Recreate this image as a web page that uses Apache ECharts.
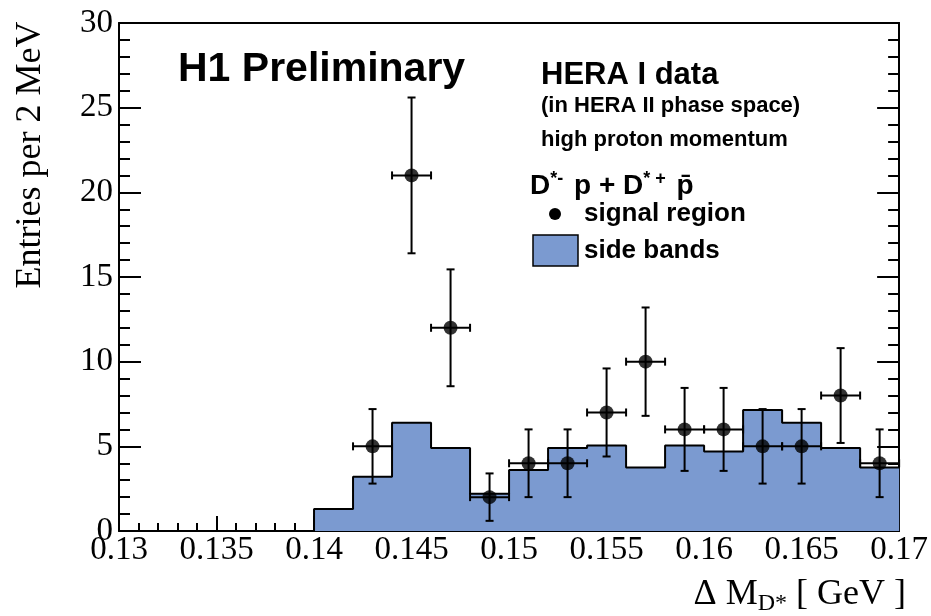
<!DOCTYPE html>
<html>
<head>
<meta charset="utf-8">
<script src="https://cdn.jsdelivr.net/npm/echarts@6/dist/echarts.min.js"></script>
<style>
  html, body { margin: 0; padding: 0; background: #fff; }
  #main { width: 931px; height: 616px; }
</style>
</head>
<body>
<div id="main"></div>
<script>
// side band histogram: bin edges (GeV) and content per 2 MeV bin
var binEdges = [0.140, 0.142, 0.144, 0.146, 0.148, 0.150, 0.152, 0.154, 0.156, 0.158, 0.160, 0.162, 0.164, 0.166, 0.168, 0.170];
var sideBands = [1.3, 3.2, 6.4, 4.9, 2.2, 3.6, 4.9, 5.05, 3.75, 5.05, 4.7, 7.15, 6.4, 4.9, 3.75];

// signal region points (bin centres), entries and vertical errors
var signalX = [0.143, 0.145, 0.147, 0.149, 0.151, 0.153, 0.155, 0.157, 0.159, 0.161, 0.163, 0.165, 0.167, 0.169];
var signalY = [5, 21, 12, 2, 4, 4, 7, 10, 6, 6, 5, 5, 8, 4];
var signalErr = [2.2, 4.6, 3.45, 1.4, 2.0, 2.0, 2.6, 3.2, 2.45, 2.45, 2.2, 2.2, 2.8, 2.0];
var halfBin = 0.001;

var fill = '#7b9ad0';
var serif = '"Liberation Serif", "DejaVu Serif", serif';
var sans = '"Liberation Sans", Arial, sans-serif';

// step outline of the histogram
var histPts = [[binEdges[0], 0]];
for (var i = 0; i < sideBands.length; i++) histPts.push([binEdges[i], sideBands[i]]);
histPts.push([binEdges[binEdges.length - 1], sideBands[sideBands.length - 1]]);

var errData = signalX.map((x, i) => [x, signalY[i], signalErr[i]]);
var pts = signalX.map((x, i) => [x, signalY[i]]);

var chart = echarts.init(document.getElementById('main'));

function renderErr(params, api) {
    var x = api.value(0), y = api.value(1), e = api.value(2);
    var c = api.coord([x, y]);
    var top = api.coord([x, y + e]);
    var bot = api.coord([x, Math.max(y - e, 0)]);
    var lft = api.coord([x - halfBin, y]);
    var rgt = api.coord([x + halfBin, y]);
    var cap = 4;
    var st = { stroke: '#000', lineWidth: 2 };
    var ln = (x1, y1, x2, y2) => ({ type: 'line', shape: { x1: x1, y1: y1, x2: x2, y2: y2 }, style: st });
    return {
        type: 'group',
        children: [
            ln(c[0], top[1], c[0], bot[1]),
            ln(c[0] - cap, top[1], c[0] + cap, top[1]),
            ln(c[0] - cap, bot[1], c[0] + cap, bot[1]),
            ln(lft[0], c[1], rgt[0], c[1]),
            ln(lft[0], c[1] - cap, lft[0], c[1] + cap),
            ln(rgt[0], c[1] - cap, rgt[0], c[1] + cap)
        ]
    };
}

var option = {
    animation: false,
    backgroundColor: '#fff',
    grid: { left: 119, right: 25, top: 23, bottom: 85 },
    xAxis: [{
        type: 'value', min: 0.13, max: 0.17, interval: 0.005,
        axisLine: { lineStyle: { color: '#000', width: 2 } },
        axisTick: { inside: true, length: 15, lineStyle: { color: '#000', width: 2 } },
        minorTick: { show: true, splitNumber: 5, length: 8, lineStyle: { color: '#000', width: 2 } },
        splitLine: { show: false },
        axisLabel: {
            color: '#000', fontFamily: serif, fontSize: 33, margin: 3,
            showMinLabel: true, showMaxLabel: true,
            formatter: v => String(+v.toFixed(3))
        }
    }, {
        type: 'value', position: 'top', min: 0.13, max: 0.17,
        axisLine: { onZero: false, lineStyle: { color: '#000', width: 2 } },
        axisTick: { show: false }, axisLabel: { show: false }, splitLine: { show: false }
    }],
    yAxis: [{
        type: 'value', min: 0, max: 30, interval: 5,
        axisLine: { show: true, lineStyle: { color: '#000', width: 2 } },
        axisTick: { show: true, inside: true, length: 22, lineStyle: { color: '#000', width: 2 } },
        minorTick: { show: true, splitNumber: 5, length: 11, lineStyle: { color: '#000', width: 2 } },
        splitLine: { show: false },
        axisLabel: { color: '#000', fontFamily: serif, fontSize: 33, margin: 6 }
    }, {
        type: 'value', min: 0, max: 30, interval: 5, position: 'right',
        axisLine: { show: true, onZero: false, lineStyle: { color: '#000', width: 2 } },
        axisTick: { show: true, inside: true, length: 22, lineStyle: { color: '#000', width: 2 } },
        minorTick: { show: true, splitNumber: 5, length: 11, lineStyle: { color: '#000', width: 2 } },
        splitLine: { show: false },
        axisLabel: { show: false }
    }],
    series: [{
        name: 'side bands',
        type: 'line',
        step: 'end',
        data: histPts,
        symbol: 'none',
        lineStyle: { color: '#000', width: 2 },
        areaStyle: { color: fill, opacity: 1 },
        z: 1
    }, {
        name: 'errors',
        type: 'custom',
        renderItem: renderErr,
        data: errData,
        z: 3
    }, {
        name: 'signal region',
        type: 'scatter',
        data: pts,
        symbol: 'circle',
        symbolSize: 14,
        itemStyle: { color: '#000' },
        z: 4
    }],
    graphic: [
        { type: 'text', x: 31, y: 155, rotation: Math.PI / 2,
          style: { text: 'Entries per 2 MeV', font: '36px ' + serif, fill: '#000', align: 'center', verticalAlign: 'middle' } },
        { type: 'text', x: 906, y: 595,
          style: {
              text: '{n|\u0394 M}{s|D*}{n| [ GeV ]}', align: 'right', verticalAlign: 'middle',
              rich: {
                  n: { fontFamily: serif, fontSize: 36, color: '#000' },
                  s: { fontFamily: serif, fontSize: 24, color: '#000', padding: [18, 0, 0, 0] }
              }
          } },
        { type: 'text', x: 178, y: 70,
          style: { text: 'H1 Preliminary', font: 'bold 41px ' + sans, fill: '#000', verticalAlign: 'middle' } },
        { type: 'text', x: 541, y: 75,
          style: { text: 'HERA I data', font: 'bold 31px ' + sans, fill: '#000', verticalAlign: 'middle' } },
        { type: 'text', x: 541, y: 106,
          style: { text: '(in HERA II phase space)', font: 'bold 22px ' + sans, fill: '#000', verticalAlign: 'middle' } },
        { type: 'text', x: 541, y: 140,
          style: { text: 'high proton momentum', font: 'bold 22px ' + sans, fill: '#000', verticalAlign: 'middle' } },
        { type: 'text', x: 530, y: 186,
          style: {
              text: '{b|D}{s|*-}{b| p + D}{s|* +}{b| p\u0304}', verticalAlign: 'middle',
              rich: {
                  b: { fontFamily: sans, fontWeight: 'bold', fontSize: 28, color: '#000' },
                  s: { fontFamily: sans, fontWeight: 'bold', fontSize: 18, color: '#000', padding: [0, 3, 14, 0] }
              }
          } },
        { type: 'circle', shape: { cx: 555, cy: 214, r: 6 }, style: { fill: '#000' } },
        { type: 'text', x: 584, y: 214,
          style: { text: 'signal region', font: 'bold 26px ' + sans, fill: '#000', verticalAlign: 'middle' } },
        { type: 'rect', shape: { x: 533, y: 235, width: 45, height: 31 }, style: { fill: fill, stroke: '#000', lineWidth: 1.5 } },
        { type: 'text', x: 584, y: 251,
          style: { text: 'side bands', font: 'bold 26px ' + sans, fill: '#000', verticalAlign: 'middle' } }
    ]
};

chart.setOption(option);
</script>
</body>
</html>
